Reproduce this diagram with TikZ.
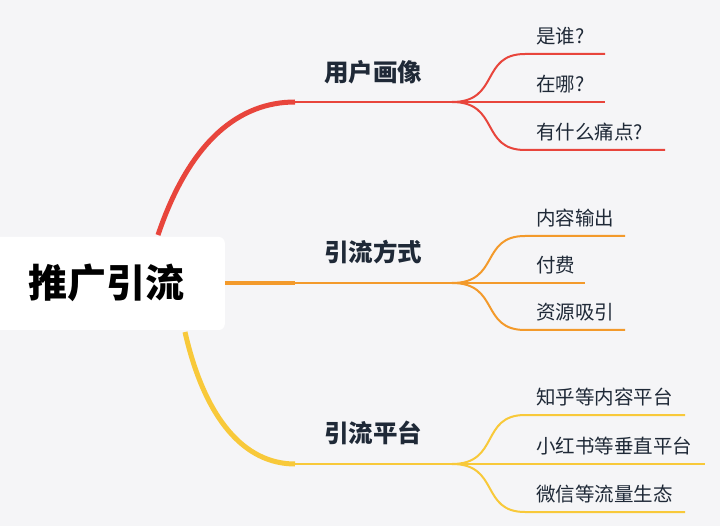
\documentclass[tikz,border=0pt]{standalone}
\usepackage{fontspec}
\setmainfont{Noto Sans CJK SC}
\definecolor{bg}{HTML}{F5F5F7}
\definecolor{cr}{HTML}{E8453C}
\definecolor{co}{HTML}{F39A2B}
\definecolor{cy}{HTML}{F8C93A}
\definecolor{tx}{HTML}{1F2937}
\begin{document}
\begin{tikzpicture}[x=1pt,y=-1pt,
  lab/.style={font=\bfseries\fontsize{24.5}{28}\selectfont,text=tx},
  sub/.style={font=\fontsize{19.5}{22}\selectfont,text=tx,anchor=west,inner sep=0pt},
  sl/.style={line width=2pt}]
\fill[bg] (0,0) rectangle (720,526);
\useasboundingbox (0,0) rectangle (720,526);
\node[fill=white,rounded corners=6pt,minimum width=240pt,minimum height=93pt,anchor=east] (root) at (225,283.5) {};
\node[font=\bfseries\fontsize{39}{44}\selectfont,text=black] at (106,283) {推广引流};
% main branches
\coordinate (r0) at (158,235); \coordinate (r1) at (295,102); \coordinate (r2) at (452,102);
\coordinate (o0) at (225,283); \coordinate (o1) at (295,283); \coordinate (o2) at (452,283);
\coordinate (y0) at (185,332); \coordinate (y1) at (295,464); \coordinate (y2) at (452,464);
\draw[cr,line width=5pt] (r0) .. controls (190,140) and (240,102) .. (r1);
\draw[cr,line width=2.2pt] (r1) -- (r2);
\draw[co,line width=4pt] (o0) -- (o1);
\draw[co,line width=2.2pt] (o1) -- (o2);
\draw[cy,line width=5pt] (y0) .. controls (205,420) and (245,464) .. (y1);
\draw[cy,line width=2.2pt] (y1) -- (y2);
\node[lab] (l1) at (373,72) {用户画像};
\node[lab] (l2) at (373,252) {引流方式};
\node[lab] (l3) at (373,433) {引流平台};
% sub branches
\foreach \c/\y/\a/\e/\t in {cr/102/54/605/是谁?, cr/102/102/605/在哪?, cr/102/150/665/有什么痛点?,
  co/283/236/625/内容输出, co/283/283/585/付费, co/283/330/625/资源吸引,
  cy/464/415/685/知乎等内容平台, cy/464/464/705/小红书等垂直平台, cy/464/512/685/微信等流量生态}{
  \draw[\c,sl] (452,\y) .. controls (500,\y) and (480,\a) .. (525,\a) -- (\e,\a);
  \node[sub] at (536,\a-18) {\t};
}
\end{tikzpicture}
\end{document}
